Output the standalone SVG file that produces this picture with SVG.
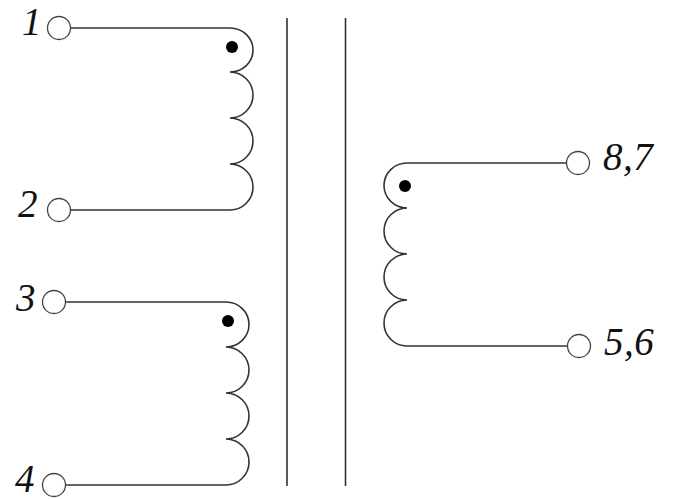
<svg xmlns="http://www.w3.org/2000/svg" width="673" height="499" viewBox="0 0 673 499">
<style>
.w{fill:none;stroke:#333;stroke-width:1.6}
.c{fill:#fff;stroke:#444;stroke-width:1.3}
.d{fill:#000}
.t{font-family:"Liberation Serif",serif;font-style:italic;font-size:39px;fill:#111}
</style>
<rect width="673" height="499" fill="#fff"/>
<g id="connectors">
<path class="w" d="M70 28H230A23 22 0 0 1 230 72A23 23 0 0 1 230 118A23 23 0 0 1 230 164A23 23 0 0 1 230 210H70"/>
<path class="w" d="M65 302H226A23 22.500 0 0 1 226 347A23 23 0 0 1 226 393A23 23 0 0 1 226 439A23 23 0 0 1 226 485H65"/>
<path class="w" d="M567 163H407A23 22.500 0 0 0 407 208A23 23 0 0 0 407 254A23 23 0 0 0 407 300A23 23 0 0 0 407 346H568"/>
<path class="w" d="M287 18V486M345.500 18V486" stroke-width="1.800"/>
</g>
<g id="t1"><circle class="c" cx="59" cy="28" r="11.500"/><text class="t" x="22" y="35">1</text></g>
<g id="t2"><circle class="c" cx="59" cy="210" r="11.500"/><text class="t" x="18" y="217">2</text></g>
<g id="t3"><circle class="c" cx="54" cy="302" r="11.500"/><text class="t" x="16" y="311">3</text></g>
<g id="t4"><circle class="c" cx="54" cy="485" r="11.500"/><text class="t" x="15" y="492">4</text></g>
<g id="t87"><circle class="c" cx="578" cy="163" r="11.500"/><text class="t" x="603" y="170" letter-spacing="0.500">8,7</text></g>
<g id="t56"><circle class="c" cx="579" cy="346" r="11.500"/><text class="t" x="604" y="355" letter-spacing="0.500">5,6</text></g>
<g id="dots"><circle class="d" cx="232" cy="47" r="6"/><circle class="d" cx="228" cy="321" r="6"/><circle class="d" cx="405" cy="186" r="6"/></g>
</svg>
